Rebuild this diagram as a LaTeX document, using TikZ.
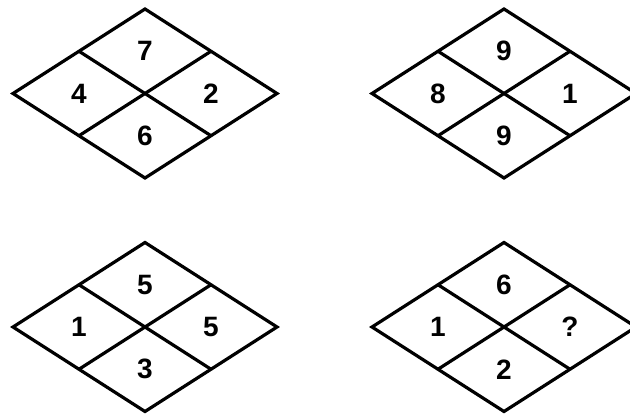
\documentclass[tikz,border=0pt]{standalone}
\usepackage{fontspec}
\setmainfont{Liberation Sans}
\tikzset{
  num/.style={font=\fontsize{28}{28}\selectfont\bfseries, inner sep=0pt},
  outline/.style={line width=3.2pt, line join=miter, black},
  divider/.style={line width=3.2pt, black},
}
% #1 name, #2 cx, #3 cy, #4 top, #5 left, #6 right, #7 bottom
\newcommand\qdiam[7]{%
  \coordinate (#1-c) at (#2,#3);
  \coordinate (#1-t) at (#2,#3+84.5);
  \coordinate (#1-b) at (#2,#3-84.5);
  \coordinate (#1-l) at (#2-132,#3);
  \coordinate (#1-r) at (#2+132,#3);
  \coordinate (#1-tl) at (#2-66,#3+42.25);
  \coordinate (#1-tr) at (#2+66,#3+42.25);
  \coordinate (#1-bl) at (#2-66,#3-42.25);
  \coordinate (#1-br) at (#2+66,#3-42.25);
  \draw[outline] (#1-l) -- (#1-t) -- (#1-r) -- (#1-b) -- cycle;
  \draw[divider] (#1-tl) -- (#1-br);
  \draw[divider] (#1-tr) -- (#1-bl);
  \node[num] (#1-nt) at (#2,#3+42.25) {#4};
  \node[num] (#1-nl) at (#2-66,#3) {#5};
  \node[num] (#1-nr) at (#2+66,#3) {#6};
  \node[num] (#1-nb) at (#2,#3-42.25) {#7};
}
\begin{document}
\begin{tikzpicture}[x=1pt,y=1pt]
\fill[white] (0,0) rectangle (630,416);
\useasboundingbox (0,0) rectangle (630,416);
\clip (0,0) rectangle (630,416);
\qdiam{a}{145}{322.5}{7}{4}{2}{6}
\qdiam{b}{504}{322.5}{9}{8}{1}{9}
\qdiam{c}{145}{89}{5}{1}{5}{3}
\qdiam{d}{504}{89}{6}{1}{?}{2}
\end{tikzpicture}
\end{document}
